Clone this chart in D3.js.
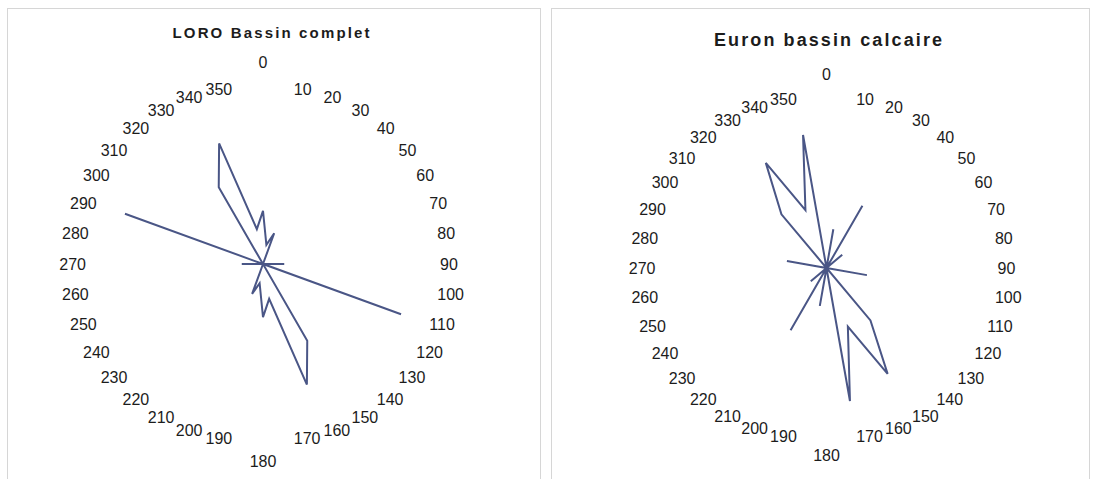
<!DOCTYPE html>
<html>
<head>
<meta charset="utf-8">
<script src="https://cdn.jsdelivr.net/npm/d3@7"></script>
<style>
  body { margin: 0; background: #fff; }
  text { font-family: "Liberation Sans", Arial, sans-serif; }
</style>
</head>
<body>
<div id="chart"></div>
<script>
// directions (degrees) used as radar categories
const directions = [0, 10, 20, 30, 40, 50, 60, 70, 80, 90, 100, 110, 120, 130, 140, 150, 160, 170,
                    180, 190, 200, 210, 220, 230, 240, 250, 260, 270, 280, 290, 300, 310, 320, 330, 340, 350];

// values (outer ring = 100)
const loroValues = [30, 11, 18.5, 0, 0, 0, 0, 0, 0, 12, 0, 83, 0, 0, 0, 50, 72.5, 20,
                    30, 11, 18, 0, 0, 0, 0, 0, 0, 12, 0, 83, 0, 0, 0, 50, 72.5, 20];
const euronValues = [0, 23, 0, 42, 0, 12, 0, 0, 0, 0, 24, 0, 0, 0, 40, 71.5, 36.5, 79,
                     0, 22.5, 0, 42, 0, 12, 0, 0, 0, 0, 23.5, 0, 0, 0, 41, 71, 36, 79];

const titles = ["LORO Bassin complet", "Euron bassin calcaire"];

const width = 1093, height = 479;
const lineColor = "#4a5686";

const svg = d3.select("#chart").append("svg")
    .attr("width", width)
    .attr("height", height);

// panel frames
svg.append("rect").attr("x", 7.5).attr("y", 8.5).attr("width", 533).attr("height", 480)
    .attr("fill", "none").attr("stroke", "#d6d6d6");
svg.append("rect").attr("x", 551.5).attr("y", 8.5).attr("width", 538).attr("height", 480)
    .attr("fill", "none").attr("stroke", "#d6d6d6");

function drawRadar(values, title, cfg) {
    const g = svg.append("g").attr("transform", "translate(" + cfg.cx + "," + cfg.cy + ")");

    const angleScale = d3.scaleLinear().domain([0, 360]).range([0, 2 * Math.PI]);
    const radiusScale = d3.scaleLinear().domain([0, 100]).range([0, cfg.r]);

    const data = directions.map(function(d, i) { return { dir: d, value: values[i] }; });

    const line = d3.lineRadial()
        .angle(function(d) { return angleScale(d.dir); })
        .radius(function(d) { return radiusScale(d.value); })
        .curve(d3.curveLinearClosed);

    g.append("path")
        .datum(data)
        .attr("d", line)
        .attr("fill", "none")
        .attr("stroke", lineColor)
        .attr("stroke-width", 2)
        .attr("stroke-linejoin", "miter");

    // category labels round the outer ring
    g.selectAll(".lab")
        .data(directions)
        .join("text")
        .attr("class", "lab")
        .attr("x", function(d) { return cfg.r * Math.sin(angleScale(d)); })
        .attr("y", function(d) {
            const y = -cfg.r * Math.cos(angleScale(d));
            if (d === 0) return y - cfg.topGap;
            if (d === 180) return y + cfg.bottomGap;
            return y;
        })
        .attr("dy", "0.35em")
        .attr("text-anchor", function(d) {
            if (d === 0 || d === 180) return "middle";
            return d < 180 ? "start" : "end";
        })
        .style("font-size", "16px")
        .style("fill", "#1c1c1c")
        .text(function(d) { return d; });

    svg.append("text")
        .attr("x", cfg.titleX)
        .attr("y", cfg.titleY)
        .attr("text-anchor", "middle")
        .attr("textLength", cfg.titleLen)
        .attr("lengthAdjust", "spacing")
        .style("font-size", cfg.titleSize + "px")
        .style("font-weight", "bold")
        .style("fill", "#1c1c1c")
        .text(title);
}

drawRadar(loroValues, titles[0], { cx: 263, cy: 264, r: 177, topGap: 25, bottomGap: 20,
    titleX: 271, titleY: 38, titleSize: 15, titleLen: 197 });
drawRadar(euronValues, titles[1], { cx: 826.5, cy: 268, r: 171, topGap: 23, bottomGap: 16,
    titleX: 828, titleY: 46, titleSize: 18, titleLen: 228 });
</script>
</body>
</html>
